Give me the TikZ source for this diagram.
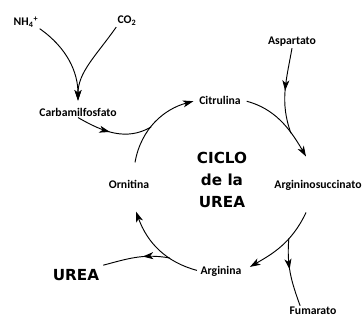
\documentclass[tikz,border=0pt]{standalone}
\usepackage{fontspec}
\setmainfont{Carlito}
\newfontfamily\titlefont{DejaVu Sans}
\usetikzlibrary{arrows.meta, decorations.markings}

\begin{document}
\begin{tikzpicture}[
    x=0.03cm, y=0.03cm,
    compound/.style={
        inner sep=1pt,
        font=\bfseries\fontsize{10}{12}\selectfont
    },
    title/.style={
        align=center,
        font=\titlefont\bfseries\fontsize{13}{18.7}\selectfont
    },
    arrow/.style={-{Stealth[length=9pt, width=6pt, inset=2.5pt]}, line width=0.8pt},
    midarrow/.style={
        line width=0.8pt,
        postaction={decorate},
        decoration={markings, mark=at position #1 with {\arrow{Stealth[length=9pt, width=6pt, inset=2.5pt]}}}
    }
]
\useasboundingbox (0,0) rectangle (364,321);

% Compounds
\node[compound] (nh4) at (26,299) {NH\textsubscript{4}\textsuperscript{+}};
\node[compound] (co2) at (127,300) {CO\textsubscript{2}};
\node[compound] (carb) at (78,209) {Carbamilfosfato};
\node[compound] (cit) at (220,221) {Citrulina};
\node[compound] (asp) at (292,279) {Aspartato};
\node[compound] (argsuc) at (318,136) {Argininosuccinato};
\node[compound] (fum) at (313,10) {Fumarato};
\node[compound] (arg) at (221,50) {Arginina};
\node[compound] (orn) at (129,137) {Ornitina};
\node[title] (urea) at (76,46) {UREA};

% Centre label
\node[title] (cycle) at (222,141) {CICLO\\de la\\UREA};

% NH4+ and CO2 join into carbamilfosfato
\draw[arrow, shorten >=5pt] (nh4.south east) to[out=-35, in=90] (carb.north);
\draw[arrow, shorten >=5pt] (co2.south west) to[out=-125, in=90] (carb.north);

% Main cycle
\draw[arrow, shorten >=4pt] ([shift={(6,16)}]orn.north) to[out=80, in=195]
    coordinate[pos=0.42] (jcarb) (cit.west);
\draw[arrow, shorten <=4pt] (cit.east) to[out=-15, in=120]
    coordinate[pos=0.7] (jasp) ([shift={(-12,22)}]argsuc.north);
\draw[arrow, shorten >=7pt] ([shift={(-12,-21)}]argsuc.south) to[out=-115, in=30]
    coordinate[pos=0.35] (jfum) (arg.east);
\draw[arrow, shorten <=2pt] (arg.west) to[out=165, in=-70]
    coordinate[pos=0.35] (jurea) ([shift={(7,-22)}]orn.south);

% Side branches
\draw[midarrow=0.45] (carb.south) to[out=-30, in=210] (jcarb);
\draw[midarrow=0.5] (asp.south) to[out=-100, in=110] (jasp);
\draw[midarrow=0.45] (jfum) to[out=-95, in=110] ([xshift=-11]fum.north);
\draw[midarrow=0.4] (jurea) to[out=170, in=15] (urea.north east);

\end{tikzpicture}
\end{document}
